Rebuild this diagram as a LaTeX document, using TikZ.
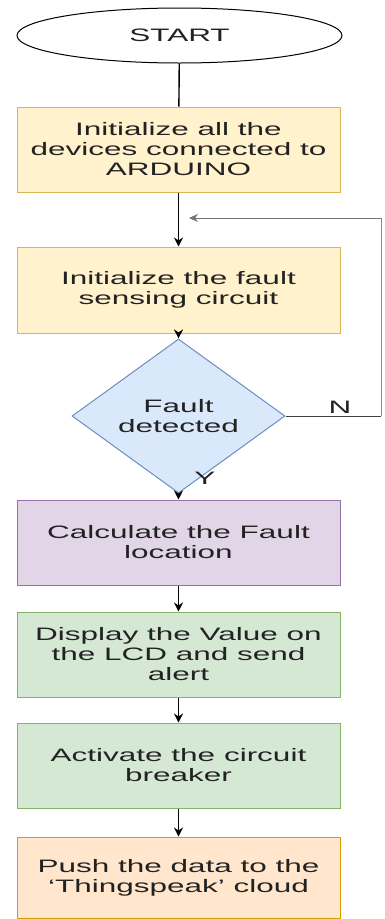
\documentclass[tikz,border=0pt]{standalone}
\usepackage{fontspec}
\setmainfont{Liberation Sans}[FakeStretch=1.75]
\usetikzlibrary{shapes.geometric}
\usetikzlibrary{arrows.meta}
\definecolor{color_flow_yellow_bg}{HTML}{FFF2CC}
\definecolor{color_flow_yellow_line}{HTML}{D6B656}
\definecolor{color_flow_purple_bg}{HTML}{E1D5E7}
\definecolor{color_flow_purple_line}{HTML}{9673A6}
\definecolor{color_flow_green_bg}{HTML}{D5E8D4}
\definecolor{color_flow_green_line}{HTML}{82B366}
\definecolor{color_flow_orange_bg}{HTML}{FFE6CC}
\definecolor{color_flow_orange_line}{HTML}{D79B00}
\definecolor{color_flow_blue_bg}{HTML}{DAE8FC}
\definecolor{color_flow_blue_line}{HTML}{6C8EBF}
\definecolor{color_flow_text}{HTML}{222222}
\def\flowboxwidth{323pt}
\def\flowboxheight{85pt}
\def\flowx{178.5}

\begin{document}
\begin{tikzpicture}[x=1pt,y=1pt,
    font=\fontsize{18}{20}\selectfont,
    every node/.style={text=color_flow_text},
    flowbox/.style={rectangle, draw, line width=1pt, align=center,
        minimum width=\flowboxwidth, minimum height=\flowboxheight, inner sep=0pt},
    flowstep/.style={-{Stealth[length=9pt,width=9pt]}, line width=1.4pt, black}]
        \useasboundingbox (0,0) rectangle (385,-919);
        % shapes of the chart
        \node[ellipse, draw=black, line width=1pt, fill=white,
            minimum width=325pt, minimum height=55pt, inner sep=0pt]
            (start) at (179.5,-35.5) {START};
        \node[flowbox, fill=color_flow_yellow_bg, draw=color_flow_yellow_line]
            (initdev) at (\flowx,-149.5) {Initialize all the\\devices connected to\\ARDUINO};
        \node[flowbox, fill=color_flow_yellow_bg, draw=color_flow_yellow_line, minimum height=86pt]
            (initsense) at (\flowx,-290) {Initialize the fault\\sensing circuit};
        \node[diamond, draw=color_flow_blue_line, fill=color_flow_blue_bg, line width=1pt,
            minimum width=213pt, minimum height=108pt, inner sep=0pt, align=center]
            (fault) at (\flowx,-416) {Fault\\detected};
        \node[flowbox, fill=color_flow_purple_bg, draw=color_flow_purple_line]
            (calc) at (\flowx,-542.5) {Calculate the Fault\\location};
        \node[flowbox, fill=color_flow_green_bg, draw=color_flow_green_line]
            (display) at (\flowx,-654.5) {Display the Value on\\the LCD and send\\alert};
        \node[flowbox, fill=color_flow_green_bg, draw=color_flow_green_line]
            (breaker) at (\flowx,-765.5) {Activate the circuit\\breaker};
        \node[flowbox, fill=color_flow_orange_bg, draw=color_flow_orange_line, minimum height=81pt]
            (push) at (\flowx,-877.5) {Push the data to the\\`Thingspeak' cloud};
        % connectors
        \draw[line width=1.4pt] (start) -- (initdev);
        \draw[flowstep] (initdev) -- (initsense);
        \draw[flowstep] (initsense) -- (fault);
        \draw[flowstep] (fault) -- (calc);
        \draw[flowstep] (calc) -- (display);
        \draw[flowstep] (display) -- (breaker);
        \draw[flowstep] (breaker) -- (push);
        % loop back when no fault
        \coordinate (loopcorner) at (381,-416);
        \coordinate (looptop) at (381,-218);
        \coordinate (loopin) at (189,-218);
        \draw[line width=1pt, black!75] (fault.east) -- (loopcorner);
        \draw[line width=0.8pt, black!45] (loopcorner) -- (looptop);
        \draw[-{Stealth[length=9pt,width=8pt]}, line width=0.8pt, black!55] (looptop) -- (loopin);
        % branch labels
        \node (nolabel) at (340,-407) {N};
        \node (yeslabel) at (205,-478) {Y};
    \end{tikzpicture}
\end{document}
